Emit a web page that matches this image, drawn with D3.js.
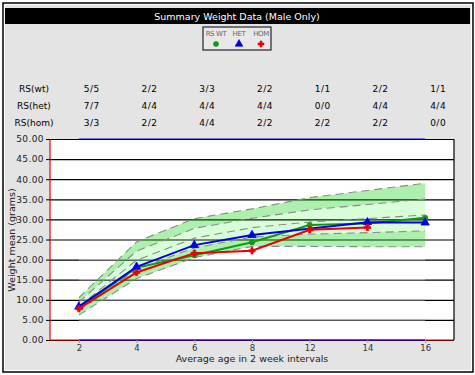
<!DOCTYPE html>
<html>
<head>
<meta charset="utf-8">
<script src="https://cdn.jsdelivr.net/npm/d3@7"></script>
<style>
  body { margin: 0; background: #fff; }
  svg text { font-family: "DejaVu Sans", Verdana, sans-serif; }
</style>
</head>
<body>
<svg class="chart" width="475" height="375"></svg>
<script>
let width = 475;
let height = 375;
let plotLeft = 50, plotRight = 454, plotTop = 139, plotBottom = 340;

// ages (weeks)
const ages = ["2", "4", "6", "8", "12", "14", "16"];
const yTicks = [0, 5, 10, 15, 20, 25, 30, 35, 40, 45, 50];

// series means (null = no data)
const wt  = [8.0, 18.0, 21.1, 24.3, 28.6, 29.0, 30.4];
const het = [8.3, 18.2, 23.6, 26.1, null, 29.3, 29.2];
const hom = [7.8, 16.8, 21.6, 22.2, 27.4, 28.0, null];

// reference band (mean and sd)
const refMean = [8.35, 19.85, 25.35, 27.95, 29.35, 30.2, 31.1];
const refSd   = [1.08, 2.28, 2.43, 2.33, 3.03, 3.5, 3.95];

// sample counts table
const rowLabels = ["RS(wt)", "RS(het)", "RS(hom)"];
const wtCounts  = ["5/5", "2/2", "3/3", "2/2", "1/1", "2/2", "1/1"];
const hetCounts = ["7/7", "4/4", "4/4", "4/4", "0/0", "4/4", "4/4"];
const homCounts = ["3/3", "2/2", "4/4", "2/2", "2/2", "2/2", "0/0"];

const svg = d3.select(".chart");

// frame
svg.append("rect").attr("x", 3).attr("y", 3).attr("width", 470).attr("height", 369)
    .attr("fill", "#fff").attr("stroke", "#000").attr("stroke-width", 1.5);
svg.append("rect").attr("x", 5).attr("y", 5).attr("width", 466).attr("height", 365)
    .attr("fill", "#e4e4e4");

// title bar
svg.append("rect").attr("x", 5).attr("y", 8).attr("width", 465).attr("height", 16).attr("fill", "#000");
svg.append("text").attr("x", 237).attr("y", 20).attr("text-anchor", "middle")
    .attr("fill", "#fff").style("font-size", "9.5px")
    .text("Summary Weight Data (Male Only)");

// legend
const legend = svg.append("g");
legend.append("rect").attr("x", 203).attr("y", 27).attr("width", 68).attr("height", 23)
    .attr("fill", "#e8e8e8").attr("stroke", "#333").attr("stroke-width", 1.3);
const legendItems = [
    {name: "RS WT", color: "#119911", sym: d3.symbolCircle, size: 20, x: 216},
    {name: "HET", color: "#0000ee", sym: d3.symbolTriangle, size: 26, x: 239},
    {name: "HOM", color: "#ee0000", sym: d3.symbolCross, size: 20, x: 261}
];
legendItems.forEach(d => {
    legend.append("text").attr("x", d.x).attr("y", 35.5).attr("text-anchor", "middle")
        .attr("fill", "#666").style("font-size", "7px").style("letter-spacing", "-0.4px").text(d.name);
    legend.append("path").attr("d", d3.symbol(d.sym, d.size)())
        .attr("transform", `translate(${d.x},${44})`).attr("fill", d.color)
        .attr("stroke", d.color).attr("stroke-width", 0.6).attr("stroke-linejoin", "round");
});

// scales
const xScale = d3.scalePoint().domain(ages).range([plotLeft, plotRight]).padding(0.5);
const yScale = d3.scaleLinear().domain([0, 50]).range([plotBottom, plotTop]);
const xFirst = xScale(ages[0]), xLast = xScale(ages[ages.length - 1]);

// counts table
const tableRows = [wtCounts, hetCounts, homCounts];
const rowY = [91.5, 108.5, 125.5];
tableRows.forEach((row, i) => {
    svg.append("text").attr("x", 34).attr("y", rowY[i]).attr("text-anchor", "middle")
        .style("font-size", "9px").text(rowLabels[i]);
    svg.append("g").selectAll("text").data(row).enter().append("text")
        .attr("x", (d, j) => xScale(ages[j]) + 13)
        .attr("y", rowY[i]).attr("text-anchor", "middle")
        .style("font-size", "9px").style("letter-spacing", "0.5px")
        .text(d => d);
});

// plot background
svg.append("rect").attr("x", plotLeft).attr("y", plotTop)
    .attr("width", plotRight - plotLeft).attr("height", plotBottom - plotTop).attr("fill", "#fff");

// grid
const yGrid = d3.axisLeft(yScale).tickValues(yTicks).tickSize(-(plotRight - plotLeft)).tickFormat("");
const gridG = svg.append("g").attr("transform", `translate(${plotLeft},0)`).call(yGrid);
gridG.select(".domain").remove();
gridG.selectAll("line").attr("stroke", "#000").attr("stroke-width", 1.2);

// lower gridlines are grey across the data range
svg.append("g").selectAll("line").data([5, 10, 15, 20]).enter().append("line")
    .attr("x1", xFirst).attr("x2", xLast)
    .attr("y1", d => yScale(d)).attr("y2", d => yScale(d))
    .attr("stroke", "#aaa").attr("stroke-width", 1.2);

// reference band
const band = (lo, hi) => d3.area()
    .x((d, i) => xScale(ages[i]))
    .y0((d, i) => yScale(refMean[i] + lo * refSd[i]))
    .y1((d, i) => yScale(refMean[i] + hi * refSd[i]));
svg.append("path").datum(refMean).attr("d", band(-2, -1)).attr("fill", "#00d000").attr("fill-opacity", 0.32);
svg.append("path").datum(refMean).attr("d", band(-1, 1)).attr("fill", "#00f000").attr("fill-opacity", 0.15);
svg.append("path").datum(refMean).attr("d", band(1, 2)).attr("fill", "#00d000").attr("fill-opacity", 0.32);

[-2, -1, 0, 1, 2].forEach(k => {
    svg.append("path").datum(refMean)
        .attr("d", d3.line().x((d, i) => xScale(ages[i])).y((d, i) => yScale(refMean[i] + k * refSd[i])))
        .attr("fill", "none").attr("stroke", "#8a8a8a").attr("stroke-width", 1.1)
        .attr("stroke-dasharray", "8,5");
});

// axis edges
svg.append("line").attr("x1", xFirst).attr("x2", xLast).attr("y1", plotTop).attr("y2", plotTop)
    .attr("stroke", "#0000ee").attr("stroke-width", 1.2);
svg.append("line").attr("x1", plotLeft).attr("x2", plotRight).attr("y1", plotBottom).attr("y2", plotBottom)
    .attr("stroke", "#ee0000").attr("stroke-width", 1.2);
svg.append("line").attr("x1", xFirst).attr("x2", xLast).attr("y1", plotBottom).attr("y2", plotBottom)
    .attr("stroke", "#0000ee").attr("stroke-width", 1.2);
svg.append("line").attr("x1", plotLeft).attr("x2", plotLeft).attr("y1", plotTop).attr("y2", plotBottom)
    .attr("stroke", "#ee0000").attr("stroke-width", 1.2);
svg.append("line").attr("x1", plotRight).attr("x2", plotRight).attr("y1", plotTop).attr("y2", plotBottom)
    .attr("stroke", "#000").attr("stroke-width", 1.2);

// y axis
const yAxis = d3.axisLeft(yScale).tickValues(yTicks).tickSize(4).tickPadding(2).tickFormat(d3.format(".2f"));
const yAxisG = svg.append("g").attr("transform", `translate(${plotLeft},0)`).call(yAxis);
yAxisG.select(".domain").remove();
yAxisG.selectAll("text").style("font-size", "9px").style("letter-spacing", "0.4px")
    .style("font-family", "DejaVu Sans").attr("fill", "#222");

// x axis
const xAxis = d3.axisBottom(xScale).tickSize(3).tickPadding(2);
const xAxisG = svg.append("g").attr("transform", `translate(0,${plotBottom})`).call(xAxis);
xAxisG.select(".domain").remove();
xAxisG.selectAll("line").attr("stroke", "#999");
xAxisG.selectAll("text").style("font-size", "8.5px").style("font-family", "DejaVu Sans").attr("fill", "#333");

// axis titles
svg.append("text").attr("x", 252).attr("y", 362).attr("text-anchor", "middle")
    .style("font-size", "9.5px").attr("fill", "#222").text("Average age in 2 week intervals");
svg.append("text").attr("transform", "translate(15,240) rotate(-90)").attr("text-anchor", "middle")
    .style("font-size", "9.5px").attr("fill", "#222").text("Weight mean (grams)");

// series
const seriesList = [
    {values: wt, color: "#119911", sym: d3.symbolCircle, size: 22},
    {values: het, color: "#0000ee", sym: d3.symbolTriangle, size: 30},
    {values: hom, color: "#ee0000", sym: d3.symbolCross, size: 22}
];
seriesList.forEach(s => {
    const pts = s.values.map((v, i) => ({age: ages[i], v: v})).filter(d => d.v !== null);
    svg.append("path").datum(pts)
        .attr("d", d3.line().x(d => xScale(d.age)).y(d => yScale(d.v)))
        .attr("fill", "none").attr("stroke", s.color).attr("stroke-width", 2);
    svg.append("g").selectAll("path").data(pts).enter().append("path")
        .attr("d", d3.symbol(s.sym, s.size)())
        .attr("transform", d => `translate(${xScale(d.age)},${yScale(d.v)})`)
        .attr("fill", s.color).attr("stroke", s.color).attr("stroke-width", 0.8)
        .attr("stroke-linejoin", "round");
});
</script>
</body>
</html>
